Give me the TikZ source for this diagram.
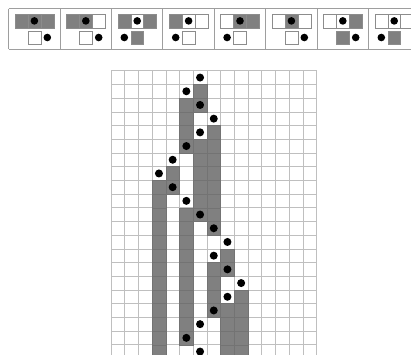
\documentclass[tikz,border=0pt]{standalone}
\begin{document}
\begin{tikzpicture}[x=1pt,y=-1pt]
\tikzset{
  cellline/.style={draw=black!45,line width=0.5pt},
  frameline/.style={draw=black!38,line width=0.9pt},
  gridline/.style={draw=black!25,line width=0.6pt},
  graycell/.style={fill=gray,draw=black!55,line width=0.4pt},
  dotmark/.style={fill=black}
}
\useasboundingbox (0,0) rectangle (411,354);
\begin{scope}
\clip (0,0) rectangle (411,354);
% ---------- rule panel ----------
\foreach \k in {0,...,7}{
  \draw[frameline] ({8.7+51.4*\k},8.7) -- ({8.7+51.4*\k},49.3);
}
\draw[frameline] (8.7,8.7) -- (420,8.7);
\draw[frameline] (8.7,49.3) -- (420,49.3);
\foreach \k/\l/\c/\r/\n/\d in {0/1/1/1/0/1,1/1/1/0/0/1,2/1/0/1/1/-1,3/1/0/0/0/-1,4/0/1/1/0/-1,5/0/1/0/0/1,6/0/0/1/1/1,7/0/0/0/1/-1}{
  \pgfmathsetmacro\xo{8.7+51.4*\k+6.35}
  \ifnum\l=1 \def\fa{gray}\else\def\fa{white}\fi
  \ifnum\c=1 \def\fb{gray}\else\def\fb{white}\fi
  \ifnum\r=1 \def\fc{gray}\else\def\fc{white}\fi
  \ifnum\n=1 \def\fd{gray}\else\def\fd{white}\fi
  \filldraw[cellline,fill=\fa] (\xo,14) rectangle ({\xo+12.9},27.8);
  \filldraw[cellline,fill=\fb] ({\xo+12.9},14) rectangle ({\xo+25.8},27.8);
  \filldraw[cellline,fill=\fc] ({\xo+25.8},14) rectangle ({\xo+38.7},27.8);
  \filldraw[cellline,fill=\fd] ({\xo+12.9},30.8) rectangle ({\xo+25.8},44.2);
  \fill[dotmark] ({\xo+19.35},20.9) circle (3.8);
  \fill[dotmark] ({\xo+19.35+12.9*\d},37.5) circle (3.8);
}
% ---------- evolution grid ----------
\def\gx{111}\def\gy{70.7}\def\cw{13.7}
\foreach \i in {0,...,15}{
  \draw[gridline] ({\gx+\cw*\i},\gy) -- ({\gx+\cw*\i},360);
}
\foreach \j in {0,...,21}{
  \draw[gridline] (\gx,{\gy+\cw*\j}) -- ({\gx+15*\cw},{\gy+\cw*\j});
}
\foreach \r/\cs in {1/{6},2/{5,6},3/{5},4/{5,7},5/{5,6,7},6/{6,7},7/{4,6,7},8/{3,4,6,7},9/{3,6,7},10/{3,5,6,7},11/{3,5,7},12/{3,5},13/{3,5,8},14/{3,5,7,8},15/{3,5,7},16/{3,5,7,9},17/{3,5,7,8,9},18/{3,5,8,9},19/{3,5,8,9},20/{3,8,9}}{
  \foreach \c in \cs {
    \filldraw[graycell] ({\gx+\cw*\c},{\gy+\cw*\r}) rectangle ({\gx+\cw*(\c+1)},{\gy+\cw*(\r+1)});
  }
}
\foreach \r/\a in {0/6,1/5,2/6,3/7,4/6,5/5,6/4,7/3,8/4,9/5,10/6,11/7,12/8,13/7,14/8,15/9,16/8,17/7,18/6,19/5,20/6}{
  \fill[dotmark] ({\gx+\cw*(\a+0.5)},{\gy+\cw*(\r+0.5)}) circle (4);
}
\end{scope}
\end{tikzpicture}
\end{document}
